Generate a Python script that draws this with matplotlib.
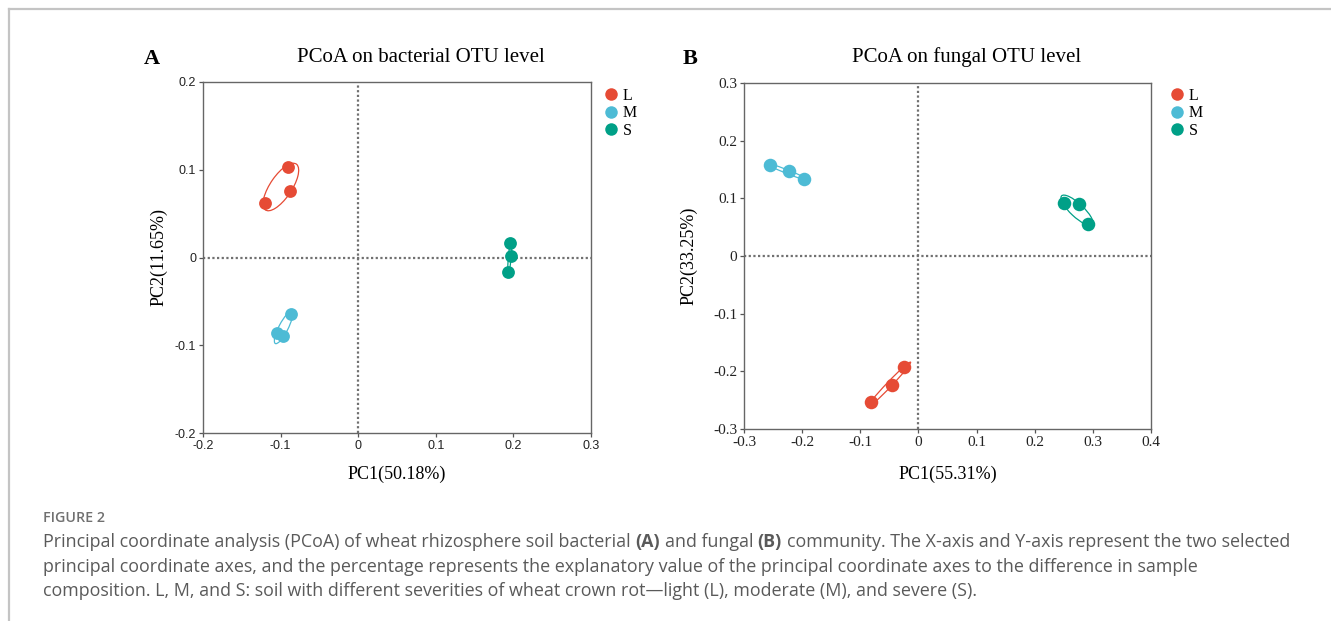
import numpy as np
import matplotlib
matplotlib.use("Agg")
import matplotlib.pyplot as plt
from matplotlib.patches import Ellipse
from matplotlib.lines import Line2D

# group names and colours
groups = ["L", "M", "S"]
colors = ["#E64B35", "#4DBBD5", "#00A087"]

# (A) bacterial PCoA, three samples per group
bac_x = {"L": [-0.120, -0.091, -0.088],
         "M": [-0.087, -0.105, -0.097],
         "S": [0.196, 0.197, 0.193]}
bac_y = {"L": [0.062, 0.103, 0.076],
         "M": [-0.064, -0.086, -0.090],
         "S": [0.016, 0.002, -0.016]}

# (B) fungal PCoA
fun_x = {"L": [-0.081, -0.045, -0.025],
         "M": [-0.256, -0.223, -0.197],
         "S": [0.250, 0.276, 0.292]}
fun_y = {"L": [-0.253, -0.223, -0.193],
         "M": [0.157, 0.148, 0.133],
         "S": [0.092, 0.090, 0.056]}

bac_xticks = [-0.2, -0.1, 0, 0.1, 0.2, 0.3]
bac_xlabels = ["-0.2", "-0.1", "0", "0.1", "0.2", "0.3"]
bac_yticks = [-0.2, -0.1, 0, 0.1, 0.2]
bac_ylabels = ["-0.2", "-0.1", "0", "0.1", "0.2"]
fun_xticks = [-0.3, -0.2, -0.1, 0, 0.1, 0.2, 0.3, 0.4]
fun_xlabels = ["-0.3", "-0.2", "-0.1", "0", "0.1", "0.2", "0.3", "0.4"]
fun_yticks = [-0.3, -0.2, -0.1, 0, 0.1, 0.2, 0.3]
fun_ylabels = ["-0.3", "-0.2", "-0.1", "0", "0.1", "0.2", "0.3"]

SERIF = "Liberation Serif"
SANS = "Liberation Sans"
W, H = 1331, 621


def draw_ellipse(ax, xs, ys, color, k=1.3):
    cov = np.cov(xs, ys)
    vals, vecs = np.linalg.eigh(cov)
    angle = np.degrees(np.arctan2(vecs[1, 1], vecs[0, 1]))
    w = 2 * k * np.sqrt(max(vals[1], 0))
    h = 2 * k * np.sqrt(max(vals[0], 0))
    ax.add_patch(Ellipse((np.mean(xs), np.mean(ys)), w, h, angle=angle,
                         fill=False, edgecolor=color, lw=0.9, zorder=2))


def pcoa_panel(rect, xs, ys, xt, xl, yt, yl, tickfont, ticksize,
               xlab, ylab, msize, xpad, ypad):
    ax = fig.add_axes(rect)
    for g, c in zip(groups, colors):
        draw_ellipse(ax, xs[g], ys[g], c)
        ax.scatter(xs[g], ys[g], s=msize, color=c, zorder=3, linewidths=0)
    ax.axvline(0, color="#707070", ls=(0, (1, 1.1)), lw=1.6, zorder=1)
    ax.axhline(0, color="#707070", ls=(0, (1, 1.1)), lw=1.6, zorder=1)
    ax.set_xlim(xt[0], xt[-1])
    ax.set_ylim(yt[0], yt[-1])
    ax.set_xticks(xt)
    ax.set_xticklabels(xl, fontfamily=tickfont, fontsize=ticksize)
    ax.set_yticks(yt)
    ax.set_yticklabels(yl, fontfamily=tickfont, fontsize=ticksize)
    ax.tick_params(direction="out", length=3, width=0.9, color="#555555",
                   pad=2, labelcolor="#222222")
    for s in ax.spines.values():
        s.set_color("#666666")
        s.set_linewidth(1.0)
    ax.set_xlabel(xlab, fontfamily=SERIF, fontsize=13, labelpad=xpad)
    ax.set_ylabel(ylab, fontfamily=SERIF, fontsize=13, labelpad=ypad)
    return ax


fig = plt.figure(figsize=(W / 100, H / 100), dpi=100)

axA = pcoa_panel([203 / W, 1 - 433 / H, 388 / W, 351 / H], bac_x, bac_y,
                 bac_xticks, bac_xlabels, bac_yticks, bac_ylabels, SANS, 9,
                 "PC1(50.18%)", "PC2(11.65%)", 85, 10, 5)
axB = pcoa_panel([744 / W, 1 - 429 / H, 407 / W, 346 / H], fun_x, fun_y,
                 fun_xticks, fun_xlabels, fun_yticks, fun_ylabels, SERIF, 11,
                 "PC1(55.31%)", "PC2(33.25%)", 95, 12, 11)

# titles and panel letters
fig.text(421 / W, 1 - 57 / H, "PCoA on bacterial OTU level", ha="center",
         va="center", fontfamily=SERIF, fontsize=15)
fig.text(967 / W, 1 - 57 / H, "PCoA on fungal OTU level", ha="center",
         va="center", fontfamily=SERIF, fontsize=15)
fig.text(152 / W, 1 - 59 / H, "A", ha="center", va="center",
         fontfamily=SERIF, fontsize=16, fontweight="bold")
fig.text(690 / W, 1 - 59 / H, "B", ha="center", va="center",
         fontfamily=SERIF, fontsize=16, fontweight="bold")

# legends
handles = [Line2D([], [], marker="o", ls="none", color=c, markersize=9,
                  markeredgewidth=0) for c in colors]
for ax, lx in [(axA, 605), (axB, 1171)]:
    ax.legend(handles, groups, loc="upper left",
              bbox_to_anchor=(lx / W, 1 - 88 / H), bbox_transform=fig.transFigure,
              frameon=False, prop={"family": SERIF, "size": 11.5},
              handlelength=0.8, handletextpad=0.3, labelspacing=0.08,
              borderpad=0, borderaxespad=0)

# caption area
cap = fig.add_axes([0, 0, 1, 1])
cap.axis("off")
cap.set_xlim(0, 1)
cap.set_ylim(0, 1)
cap.add_line(Line2D([9 / W, 1], [1 - 9 / H, 1 - 9 / H], color="#c4c4c4", lw=1.6))
cap.add_line(Line2D([9 / W, 9 / W], [0, 1 - 9 / H], color="#c4c4c4", lw=1.6))

CAPFONT = ["Open Sans", "DejaVu Sans"]
cap_x = 43 / W
cap.text(cap_x, 1 - 518 / H, "FIGURE 2", ha="left", va="center",
         fontfamily=CAPFONT, fontsize=10.3, fontweight="semibold", color="#707070")

cap_lines = [
    [("Principal coordinate analysis (PCoA) of wheat rhizosphere soil bacterial", "normal"),
     ("(A)", "bold"), ("and fungal", "normal"), ("(B)", "bold"),
     ("community. The X-axis and Y-axis represent the two selected", "normal")],
    [("principal coordinate axes, and the percentage represents the explanatory value "
      "of the principal coordinate axes to the difference in sample", "normal")],
    [("composition. L, M, and S: soil with different severities of wheat crown "
      "rot\u2014light (L), moderate (M), and severe (S).", "normal")],
]
cap_y = [541, 566, 590]
capsize = 12.9
for parts, yy in zip(cap_lines, cap_y):
    t = cap.text(cap_x, 1 - (yy + 10) / H, parts[0][0], ha="left", va="bottom",
                 fontfamily=CAPFONT, fontsize=capsize, fontweight=parts[0][1],
                 color="#5a5a5a")
    for txt, wt in parts[1:]:
        t = cap.annotate(txt, xy=(1, 0), xycoords=t, xytext=(0.26 * capsize, 0),
                         textcoords="offset points", ha="left", va="bottom",
                         fontfamily=CAPFONT, fontsize=capsize, fontweight=wt,
                         color="#5a5a5a")

fig.savefig("out.png", dpi=100)
